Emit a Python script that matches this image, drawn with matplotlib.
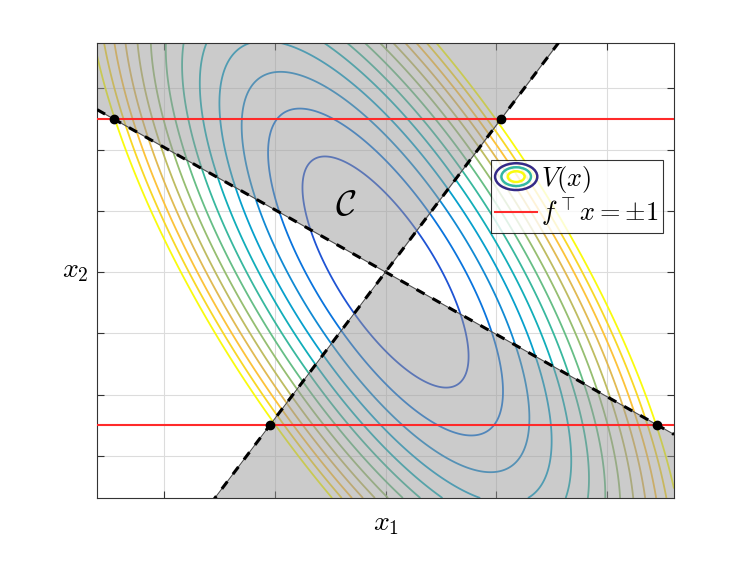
import numpy as np
import matplotlib
matplotlib.use("Agg")
import matplotlib.pyplot as plt
from matplotlib.colors import LinearSegmentedColormap
from matplotlib.legend_handler import HandlerBase
from matplotlib.patches import Ellipse
from matplotlib.lines import Line2D

plt.rcParams['mathtext.fontset'] = 'cm'

# ---- data ----
P = [[3.82, 1.106], [1.106, 0.601]]          # V(x) = x' P x
levels = [1, 2, 3, 4, 5, 6, 7, 8, 9, 10, 11, 12, 13]
cone_slopes = [-1.02, 2.4]                   # cone boundary lines x2 = m*x1
f = [0.0, 0.4]                               # f' x = +-1
xlim = [-2.6, 2.6]
ylim = [-3.69, 3.74]
xticks = [-2, -1, 0, 1, 2]
yticks = [-3, -2, -1, 0, 1, 2, 3]

# parula colormap anchors
parula_anchors = [
    (0.2081, 0.1663, 0.5292), (0.1253, 0.3242, 0.8303), (0.0329, 0.4430, 0.8720),
    (0.0793, 0.5200, 0.8312), (0.0265, 0.6137, 0.8135), (0.0267, 0.6642, 0.7607),
    (0.1453, 0.7098, 0.6646), (0.3022, 0.7376, 0.5712), (0.4871, 0.7491, 0.4840),
    (0.6473, 0.7456, 0.4188), (0.7858, 0.7356, 0.3633), (0.9139, 0.7258, 0.3063),
    (0.9990, 0.7653, 0.2164), (0.9697, 0.8481, 0.1475), (0.9763, 0.9831, 0.0538)]
parula = LinearSegmentedColormap.from_list('parula', parula_anchors)

fig = plt.figure(figsize=(7.47, 5.61), dpi=100)
ax = fig.add_axes([0.1299, 0.1123, 0.7724, 0.8111])

x1 = np.linspace(xlim[0], xlim[1], 500)
x2 = np.linspace(ylim[0], ylim[1], 500)
X1, X2 = np.meshgrid(x1, x2)
V = P[0][0] * X1**2 + 2 * P[0][1] * X1 * X2 + P[1][1] * X2**2
ax.contour(X1, X2, V, levels=levels, cmap=parula, vmin=0, vmax=max(levels),
           linewidths=1.3, zorder=1)

# gray cone region
m1, m2 = cone_slopes
xs = np.array([xlim[0], 0.0, xlim[1]])
low = np.minimum(m1 * xs, m2 * xs)
high = np.maximum(m1 * xs, m2 * xs)
ax.fill_between(xs, high, ylim[1], color='0.6', alpha=0.5, lw=0, zorder=2)
ax.fill_between(xs, ylim[0], low, color='0.6', alpha=0.5, lw=0, zorder=2)

# red lines f'x = +-1
for s in (1, -1):
    ax.axhline(s / f[1], color='#ff2a2a', lw=1.5, zorder=3)

# cone boundary dashed lines
for m in cone_slopes:
    ax.plot(xs, m * xs, color='0.3', lw=0.8, zorder=4)
    ax.plot(xs, m * xs, color='black', lw=2.2, ls=(0, (3, 3)), zorder=4)

# intersection points
for m in cone_slopes:
    for s in (1, -1):
        yv = s / f[1]
        ax.plot(yv / m, yv, 'o', color='black', ms=6, zorder=5)

ax.text(-0.36, 1.09, r'$\mathcal{C}$', fontsize=26, ha='center', va='center', zorder=6)

ax.set_xlim(xlim)
ax.set_ylim(ylim)
ax.set_xticks(xticks)
ax.set_yticks(yticks)
ax.grid(True, color='#dcdcdc', lw=0.8)
ax.set_axisbelow(True)
ax.tick_params(direction='in', top=True, right=True, labelbottom=False, labelleft=False,
               length=5, color='0.2')
for sp in ax.spines.values():
    sp.set_color('0.2')
    sp.set_linewidth(0.8)
ax.set_xlabel(r'$x_1$', fontsize=20, labelpad=8)
ax.set_ylabel(r'$x_2$', fontsize=20, rotation=0, labelpad=16, va='center')


class EllipseHandler(HandlerBase):
    def create_artists(self, legend, orig_handle, xdescent, ydescent, width, height,
                       fontsize, trans):
        cx, cy = 0.5 * width - xdescent, 0.5 * height - ydescent
        arts = []
        for k, c in enumerate([parula(0.0), parula(0.45), parula(1.0)]):
            sc = 1.0 - 0.3 * k
            e = Ellipse((cx, cy), width * sc, height * 1.45 * sc, fill=False,
                        edgecolor=c, lw=1.8, transform=trans)
            arts.append(e)
        return arts


class EllipseProxy:
    pass


proxy = EllipseProxy()
red = Line2D([], [], color='#ff2a2a', lw=1.5)
leg = ax.legend([proxy, red], [r'$V(x)$', r'$f^{\top}x = \pm 1$'],
                handler_map={EllipseProxy: EllipseHandler()},
                loc='upper left', bbox_to_anchor=(0.683, 0.743), borderaxespad=0,
                fontsize=19, frameon=True, fancybox=False, edgecolor='black',
                handlelength=1.6, handletextpad=0.15, borderpad=0.15, labelspacing=0.05)
leg.get_frame().set_linewidth(0.8)
leg.set_zorder(10)

fig.savefig('out.png', dpi=100)
